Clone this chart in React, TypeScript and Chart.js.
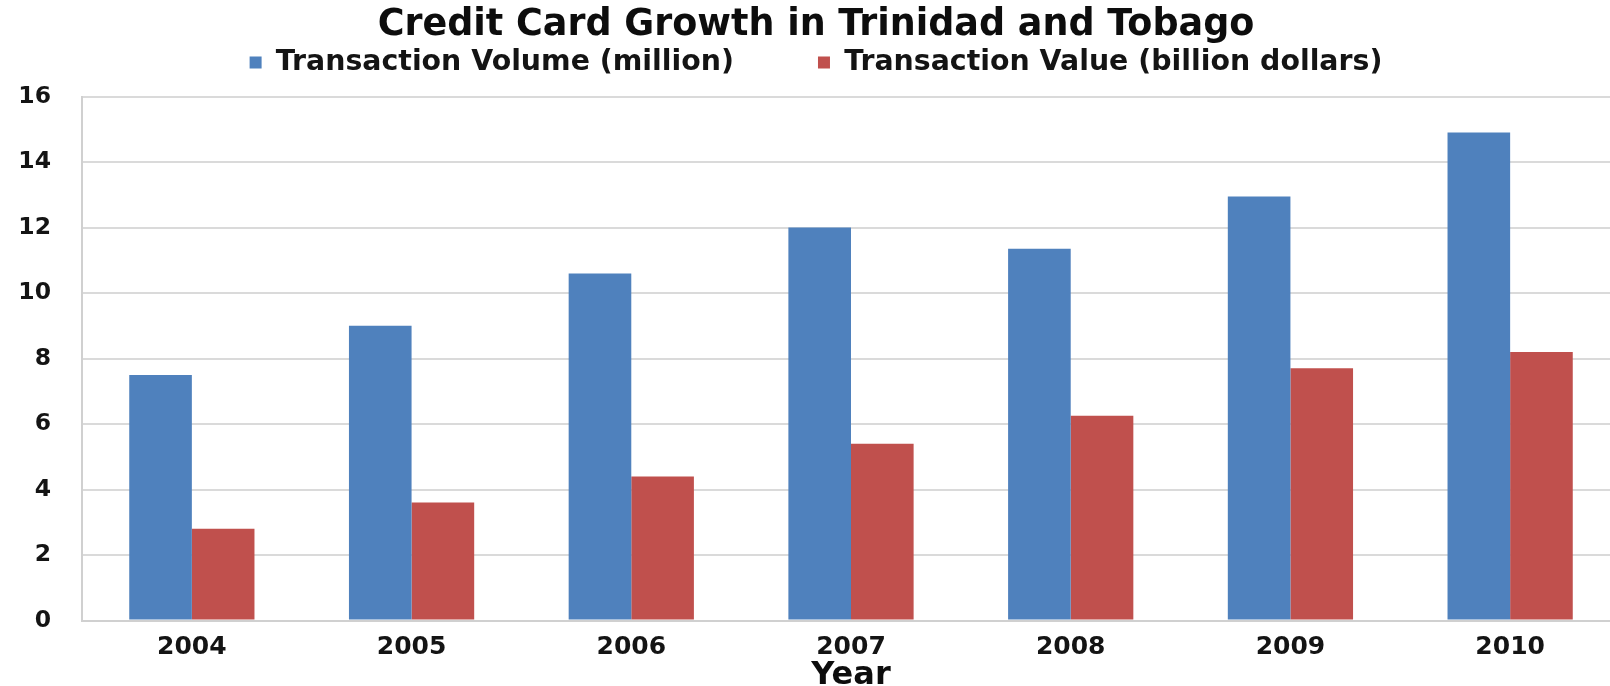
import React, { useEffect, useRef } from "react";
import { Chart, registerables } from "chart.js";

Chart.register(...registerables);

const years = ["2004", "2005", "2006", "2007", "2008", "2009", "2010"];
const transactionVolume = [7.5, 9.0, 10.6, 12.0, 11.35, 12.95, 14.9];
const transactionValue = [2.8, 3.6, 4.4, 5.4, 6.25, 7.7, 8.2];
const yTicks = [0, 2, 4, 6, 8, 10, 12, 14, 16];
const seriesNames = ["Transaction Volume (million)", "Transaction Value (billion dollars)"];
const chartTitle = "Credit Card Growth in Trinidad and Tobago";
const xAxisTitle = "Year";

const FONT = "'DejaVu Sans', 'Liberation Sans', sans-serif";

export default function App() {
  const ref = useRef<HTMLCanvasElement>(null);

  useEffect(() => {
    const chart = new Chart(ref.current as HTMLCanvasElement, {
      type: "bar",
      data: {
        labels: years,
        datasets: [
          {
            label: seriesNames[0],
            data: transactionVolume,
            backgroundColor: "#4F81BD",
            borderWidth: 0,
            xAxisID: "x",
            yAxisID: "y",
          },
          {
            label: seriesNames[1],
            data: transactionValue,
            backgroundColor: "#C0504D",
            borderWidth: 0,
            xAxisID: "x",
            yAxisID: "y",
          },
        ],
      },
      options: {
        responsive: false,
        animation: false,
        devicePixelRatio: 1,
        layout: { padding: { top: -36.8, left: 12, right: 10, bottom: -4.5 } },
        datasets: { bar: { categoryPercentage: 0.57, barPercentage: 1 } },
        plugins: {
          tooltip: { enabled: false },
          title: {
            display: true,
            text: chartTitle,
            color: "#0d0d0d",
            font: { family: FONT, size: 36.5, weight: "bold", lineHeight: 1.2 },
            padding: { top: 40.8, bottom: -83.6 },
          },
          legend: {
            display: true,
            position: "top",
            labels: {
              color: "#141414",
              font: { family: FONT, size: 28.4, weight: "bold" },
              boxWidth: 12,
              boxHeight: 12,
              padding: 84,
            },
          },
        },
        scales: {
          x: {
            type: "category",
            position: "bottom",
            grid: { display: false, drawTicks: false },
            border: { display: true, color: "#d0d0d0", width: 2 },
            ticks: {
              color: "#141414",
              padding: 14,
              font: { family: FONT, size: 25, weight: "bold", lineHeight: 1 },
            },
            title: {
              display: true,
              text: xAxisTitle,
              color: "#0d0d0d",
              font: { family: FONT, size: 32, weight: "bold", lineHeight: 1 },
              padding: { top: -14, bottom: -1 },
            },
          },
          xTop: {
            type: "category",
            position: "top",
            grid: { display: false, drawTicks: false },
            border: { display: false },
            ticks: { display: false },
            afterFit: (s: any) => {
              s.height = 10;
            },
          },
          y: {
            type: "linear",
            min: 0,
            max: 16,
            afterBuildTicks: (s: any) => {
              s.ticks = yTicks.map((v) => ({ value: v }));
            },
            ticks: {
              color: "#141414",
              padding: 31,
              font: { family: FONT, size: 23.5, weight: "bold" },
            },
            grid: { color: "#dadada", lineWidth: 2, drawTicks: false },
            border: { display: true, color: "#d0d0d0", width: 2 },
            afterFit: (s: any) => {
              s.width = 70;
            },
          },
        },
      },
    } as any);
    return () => chart.destroy();
  }, []);

  return (
    <div
      style={{
        position: "fixed",
        left: 0,
        top: 0,
        width: 1610,
        height: 686,
        overflow: "hidden",
        background: "#fff",
      }}
    >
      <canvas ref={ref} width={1630} height={686} style={{ display: "block" }} />
    </div>
  );
}
